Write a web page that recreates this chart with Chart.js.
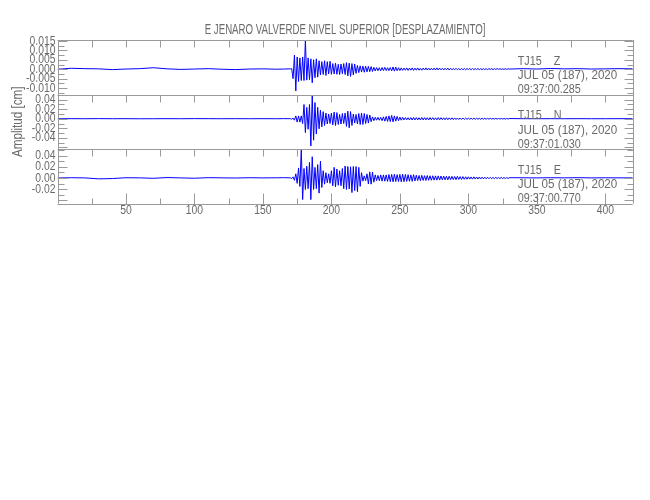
<!DOCTYPE html>
<html>
<head>
<meta charset="utf-8">
<script src="https://cdn.jsdelivr.net/npm/chart.js@4.4.1/dist/chart.umd.min.js"></script>
<style>
html,body{margin:0;padding:0;background:#fff;}
#wrap{position:relative;width:650px;height:500px;}
</style>
</head>
<body>
<div id="wrap"><canvas id="c" width="650" height="500"></canvas></div>
<script>
// ---------- text ----------
const chartTitle = 'E JENARO VALVERDE NIVEL SUPERIOR [DESPLAZAMIENTO]';
const yTitle = 'Amplitud [cm]';
const station = 'TJ15';
const components = ['Z', 'N', 'E'];
const dateLabel = 'JUL 05 (187), 2020';
const startTimes = ['09:37:00.285', '09:37:01.030', '09:37:00.770'];

// ---------- axes ----------
const xMin = 0, xMax = 420, xStep = 50, xMinorStep = 25;
const yMins = [-0.0134, -0.0635, -0.0455];
const yMaxs = [0.0155, 0.051, 0.0518];
const ySteps = [0.005, 0.02, 0.02];
const yMinorSteps = [0.0025, 0.01, 0.01];
const yDecimals = [3, 2, 2];
const yTickLabelsZ = ['0.015', '0.010', '0.005', '0.000', '-0.005', '-0.010'];
const yTickLabelsN = ['0.04', '0.02', '0.00', '-0.02', '-0.04'];
const yTickLabelsE = ['0.04', '0.02', '0.00', '-0.02'];
const yTickLabels = [yTickLabelsZ, yTickLabelsN, yTickLabelsE];

// ---------- sample times (s) ----------
const tPre = [0, 10, 20, 30, 40, 50, 60, 70, 80, 90, 100, 110, 120, 130, 140, 150, 160, 165, 170];
const tAct = [];
for (let t = 171; t <= 330; t++) tAct.push(t);
const tPost = [340, 350, 360, 370, 380, 390, 400, 410, 420];

// ---------- Z component (cm): quiet part, oscillation peaks 171-330 s, quiet tail ----------
const zPre = [0.0000, 0.0005, 0.0003, 0.0002, -0.0002, 0.0001, 0.0003, 0.0008, 0.0002, -0.0001, 0.0001, 0.0003, 0.0000, -0.0002, 0.0001, 0.0002, 0.0000, 0.0001, 0.0002];
const zWave = [
 0.0003, -0.005, 0.0075, -0.0115, 0.0065, -0.0065, 0.006, -0.006, 0.0065, -0.006,
 0.0155, -0.0058, 0.006, -0.0055, 0.0055, -0.0072, 0.005, -0.0045, 0.0055, -0.0042,
 0.0045, -0.003, 0.004, -0.0028, 0.0045, -0.0033, 0.004, -0.0025, 0.0042, -0.0027,
 0.003, -0.0025, 0.0032, -0.0027, 0.0026, -0.0028, 0.0028, -0.0024, 0.003, -0.0028,
 0.0035, -0.0035, 0.0032, -0.0038, 0.003, -0.003, 0.0028, -0.0022, 0.002, -0.0018,
 0.0018, -0.0015, 0.0017, -0.0016, 0.0016, -0.0014, 0.0015, -0.0013, 0.0014, -0.0012,
 0.001, -0.0009, 0.0009, -0.0008, 0.0008, -0.0008, 0.0009, -0.0007, 0.001, -0.0007,
 0.0008, -0.0007, 0.0009, -0.0009, 0.0012, -0.001, 0.0011, -0.0008, 0.0008, -0.0007,
 0.0007, -0.0006, 0.0006, -0.0005, 0.0007, -0.0006, 0.0006, -0.0005, 0.0007, -0.0006,
 0.0006, -0.0005, 0.0007, -0.0005, 0.0005, -0.0005, 0.0006, -0.0004, 0.0007, -0.0004,
 0.0006, -0.0004, 0.0005, -0.0004, 0.0006, -0.0004, 0.0007, -0.0004, 0.0006, -0.0003,
 0.0005, -0.0004, 0.0005, -0.0003, 0.0006, -0.0004, 0.0005, -0.0003, 0.0004, -0.0003,
 0.0005, -0.0003, 0.0004, -0.0003, 0.0004, -0.0003, 0.0004, -0.0003, 0.0004, -0.0002,
 0.0004, -0.0003, 0.0004, -0.0002, 0.0003, -0.0002, 0.0004, -0.0002, 0.0003, -0.0002,
 0.0003, -0.0002, 0.0003, -0.0002, 0.0003, -0.0001, 0.0003, -0.0002, 0.0003, -0.0001,
 0.0003, -0.0001, 0.0003, -0.0001, 0.0002, -0.0001, 0.0003, -0.0001, 0.0002, 0.0001];
const zPost = [0.0003, 0.0001, 0.0004, 0.0002, 0.0003, 0.0001, 0.0002, 0.0003, 0.0002];

// ---------- N component (cm) ----------
const nPre = [0.0000, 0.0002, 0.0001, 0.0003, 0.0001, 0.0002, 0.0000, 0.0001, 0.0002, 0.0001, 0.0003, 0.0002, 0.0001, 0.0002, 0.0001, 0.0002, 0.0001, 0.0003, 0.0002];
const nWave = [
 -0.001, 0.0015, -0.003, 0.006, -0.007, 0.006, -0.007, 0.006, -0.01, 0.03,
 -0.029, 0.024, -0.022, 0.03, -0.057, 0.05, -0.045, 0.034, -0.032, 0.024,
 -0.021, 0.018, -0.017, 0.015, -0.014, 0.012, -0.011, 0.01, -0.01, 0.012,
 -0.013, 0.014, -0.014, 0.013, -0.012, 0.009, -0.011, 0.011, -0.01, 0.012,
 -0.016, 0.016, -0.019, 0.015, -0.014, 0.01, -0.009, 0.009, -0.011, 0.011,
 -0.012, 0.012, -0.012, 0.011, -0.01, 0.009, -0.009, 0.008, -0.006, 0.004,
 -0.004, 0.003, -0.003, 0.003, -0.003, 0.003, -0.004, 0.004, -0.005, 0.005,
 -0.0055, 0.006, -0.006, 0.007, -0.0065, 0.006, -0.005, 0.005, -0.004, 0.0035,
 -0.003, 0.003, -0.0025, 0.0025, -0.0022, 0.0022, -0.0025, 0.0024, -0.0026, 0.0028,
 -0.0025, 0.0025, -0.0024, 0.0022, -0.0025, 0.0026, -0.0024, 0.0024, -0.0024, 0.0023,
 -0.0025, 0.0025, -0.0022, 0.0023, -0.0021, 0.002, -0.0022, 0.0024, -0.0022, 0.0022,
 -0.002, 0.002, -0.0021, 0.0022, -0.0019, 0.0019, -0.0018, 0.002, -0.0018, 0.0017,
 -0.0016, 0.0016, -0.0015, 0.0015, -0.0014, 0.0016, -0.0014, 0.0014, -0.0013, 0.0013,
 -0.0012, 0.0012, -0.0011, 0.0013, -0.0011, 0.0011, -0.001, 0.001, -0.001, 0.001,
 -0.0009, 0.001, -0.0009, 0.0009, -0.0008, 0.001, -0.0008, 0.0008, -0.0007, 0.0009,
 -0.0007, 0.0007, -0.0006, 0.0007, -0.0006, 0.0006, -0.0006, 0.0006, -0.0005, 0.0005];
const nPost = [0.0002, 0.0001, 0.0002, 0.0001, 0.0002, 0.0001, 0.0001, 0.0002, 0.0001];

// ---------- E component (cm) ----------
const ePre = [0.0000, 0.0005, 0.0002, -0.0015, -0.0010, 0.0005, 0.0003, -0.0005, 0.0008, 0.0002, -0.0004, 0.0006, 0.0003, 0.0000, 0.0005, 0.0002, 0.0004, 0.0006, 0.0003];
const eWave = [
 -0.001, 0.002, -0.004, 0.0075, -0.0095, 0.018, -0.015, 0.0515, -0.0385, 0.017,
 -0.0205, 0.021, -0.019, 0.028, -0.0385, 0.038, -0.0205, 0.019, -0.019, 0.024,
 -0.027, 0.03, -0.017, 0.013, -0.011, 0.0095, -0.0085, 0.0075, -0.0095, 0.013,
 -0.014, 0.019, -0.016, 0.016, -0.013, 0.013, -0.014, 0.017, -0.019, 0.0215,
 -0.0205, 0.0205, -0.0195, 0.02, -0.026, 0.0205, -0.0225, 0.0205, -0.0245, 0.019,
 -0.015, 0.0095, -0.0056, 0.0038, -0.0047, 0.0075, -0.0105, 0.011, -0.011, 0.0105,
 -0.0075, 0.0056, -0.0047, 0.0047, -0.0047, 0.0056, -0.0056, 0.0056, -0.0056, 0.0056,
 -0.006, 0.0062, -0.0065, 0.0065, -0.0068, 0.0068, -0.0062, 0.006, -0.0062, 0.0064,
 -0.0068, 0.007, -0.0066, 0.0062, -0.006, 0.006, -0.0058, 0.0056, -0.006, 0.006,
 -0.0052, 0.005, -0.0046, 0.0045, -0.0048, 0.0048, -0.0043, 0.0042, -0.0044, 0.0044,
 -0.0041, 0.004, -0.004, 0.004, -0.0038, 0.0038, -0.0038, 0.0038, -0.0036, 0.0035,
 -0.0034, 0.0034, -0.0032, 0.0032, -0.0032, 0.0032, -0.003, 0.003, -0.0028, 0.0027,
 -0.0029, 0.003, -0.0026, 0.0025, -0.0025, 0.0025, -0.0023, 0.0022, -0.0022, 0.0022,
 -0.002, 0.0019, -0.002, 0.0021, -0.0018, 0.0018, -0.0018, 0.0018, -0.0016, 0.0015,
 -0.0015, 0.0015, -0.0014, 0.0013, -0.0013, 0.0013, -0.0012, 0.0011, -0.0011, 0.0011,
 -0.001, 0.0009, -0.001, 0.001, -0.0009, 0.0008, -0.0008, 0.0008, -0.0007, 0.0006];
const ePost = [0.0004, 0.0002, 0.0005, 0.0003, 0.0006, 0.0002, 0.0004, 0.0003, 0.0002];

// ---------- styling ----------
const FONT = "'Liberation Sans', Arial, sans-serif";
const TEXT = '#6a6a6a';
const AXIS = '#9a9a9a';
const TRACE = 'rgb(0,0,255)';
const axisIds = ['yZ', 'yN', 'yE'];

// horizontally condensed text (the original uses a narrow stroke font)
let textScaleX = 0.8;
const condensePlugin = {
  id: 'condense',
  beforeInit(chart) {
    const ctx = chart.ctx;
    if (ctx._origFillText) return;
    ctx._origFillText = ctx.fillText;
    ctx.fillText = function (text, x, y, maxWidth) {
      this.save();
      this.translate(x, y);
      this.scale(textScaleX, 1);
      if (maxWidth !== undefined) this._origFillText(text, 0, 0, maxWidth / textScaleX);
      else this._origFillText(text, 0, 0);
      this.restore();
    };
  }
};

function buildTrace(pre, wave, post) {
  const pts = [];
  tPre.forEach((t, i) => pts.push({x: t, y: pre[i]}));
  tAct.forEach((t, i) => pts.push({x: t, y: wave[i]}));
  tPost.forEach((t, i) => pts.push({x: t, y: post[i]}));
  return pts;
}

const traces = [
  buildTrace(zPre, zWave, zPost),
  buildTrace(nPre, nWave, nPost),
  buildTrace(ePre, eWave, ePost)
];

const datasets = traces.map((d, i) => ({
  label: components[i],
  data: d,
  yAxisID: axisIds[i],
  borderColor: TRACE,
  borderWidth: 1,
  pointRadius: 0,
  tension: 0,
  fill: false
}));

const scales = {
  x: {
    type: 'linear', min: xMin, max: xMax,
    grid: {display: false, drawTicks: false},
    border: {display: false},
    ticks: {
      stepSize: xStep, includeBounds: false, autoSkip: false, maxRotation: 0,
      padding: 0, color: TEXT, font: {family: FONT, size: 13, lineHeight: 1},
      callback: v => (v === 0 ? '' : String(v))
    },
    afterFit: s => { s.height = 26; }
  }
};
axisIds.forEach((id, i) => {
  scales[id] = {
    type: 'linear', position: 'left', stack: 'seis', stackWeight: 1,
    weight: 3 - i,
    min: yMins[i], max: yMaxs[i],
    grid: {display: false, drawTicks: false},
    border: {display: false},
    ticks: {
      stepSize: ySteps[i], includeBounds: false, autoSkip: false, padding: 2,
      color: TEXT, font: {family: FONT, size: 13},
      callback: v => {
        const s = (Math.abs(v) < 1e-9 ? 0 : v).toFixed(yDecimals[i]);
        return yTickLabels[i].includes(s) ? s : '';
      }
    },
    title: i === 1 ? {display: true, text: yTitle, color: TEXT, font: {family: FONT, size: 14.5}, padding: {top: 9, bottom: 0}} : {display: false},
    afterFit: s => { s.width = 57; }
  };
});

function line(ctx, x1, y1, x2, y2) {
  ctx.beginPath(); ctx.moveTo(x1, y1); ctx.lineTo(x2, y2); ctx.stroke();
}
const px = v => Math.round(v) + 0.5;

const framePlugin = {
  id: 'frame',
  afterDatasetsDraw(chart) {
    const {ctx, chartArea: a, scales: sc} = chart;
    ctx.save();
    ctx.strokeStyle = AXIS;
    ctx.lineWidth = 1;
    const L = px(a.left), R = px(a.right);
    line(ctx, L, a.top, L, a.bottom);
    line(ctx, R, a.top, R, a.bottom);
    axisIds.forEach((id, i) => {
      const s = sc[id];
      const top = px(s.top);
      line(ctx, a.left, top, a.right, top);
      const n0 = Math.ceil(yMins[i] / yMinorSteps[i] - 1e-6);
      const n1 = Math.floor(yMaxs[i] / yMinorSteps[i] + 1e-6);
      const ratio = Math.round(ySteps[i] / yMinorSteps[i]);
      for (let k = n0; k <= n1; k++) {
        const y = px(s.getPixelForValue(k * yMinorSteps[i]));
        const len = (k % ratio === 0) ? 9 : 6;
        line(ctx, L, y, L + len, y);
        line(ctx, R, y, R - len, y);
      }
      for (let v = xMinorStep; v < xMax; v += xMinorStep) {
        const x = px(sc.x.getPixelForValue(v));
        line(ctx, x, top, x, top + 7);
      }
    });
    const B = px(a.bottom);
    line(ctx, a.left, B, a.right, B);
    for (let v = xMinorStep; v < xMax; v += xMinorStep) {
      const x = px(sc.x.getPixelForValue(v));
      const len = (v % xStep === 0) ? 11 : 6;
      line(ctx, x, B, x, B - len);
    }
    ctx.fillStyle = TEXT;
    ctx.textBaseline = 'alphabetic';
    ctx.textAlign = 'center';
    ctx.font = '14px ' + FONT;
    const keep = textScaleX;
    textScaleX = 0.69;
    ctx.fillText(chartTitle, (a.left + a.right) / 2, 33.5);
    ctx.textAlign = 'left';
    ctx.font = '12px ' + FONT;
    axisIds.forEach((id, i) => {
      const s = sc[id];
      const x = sc.x.getPixelForValue(336);
      textScaleX = 0.9;
      ctx.fillText(station + '    ' + components[i], x, s.top + 24.5);
      textScaleX = 0.97;
      ctx.fillText(dateLabel, x, s.top + 39);
      textScaleX = 0.9;
      ctx.fillText(startTimes[i], x, s.top + 53.3);
    });
    textScaleX = keep;
    ctx.restore();
  }
};

new Chart(document.getElementById('c'), {
  type: 'line',
  data: {datasets},
  options: {
    responsive: false,
    animation: false,
    devicePixelRatio: 1,
    layout: {padding: {left: 0.5, right: 17.3, top: 40, bottom: 270.5}},
    plugins: {legend: {display: false}, title: {display: false}, tooltip: {enabled: false}},
    scales
  },
  plugins: [condensePlugin, framePlugin]
});
</script>
</body>
</html>
